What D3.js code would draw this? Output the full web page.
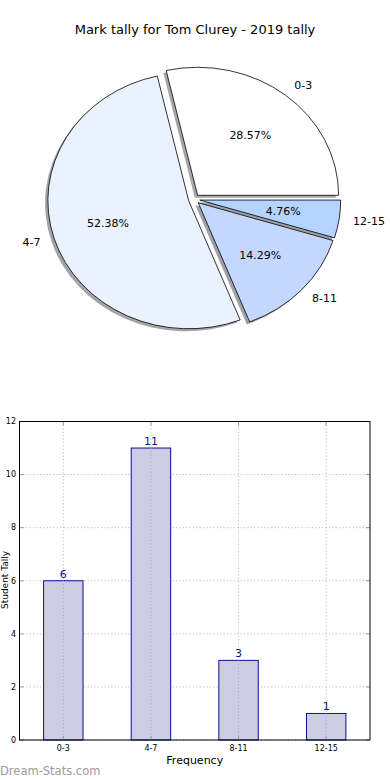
<!DOCTYPE html>
<html>
<head>
<meta charset="utf-8">
<script src="https://cdn.jsdelivr.net/npm/d3@7"></script>
<style>
html,body{margin:0;padding:0;background:#fff;}
svg{display:block;font-family:"DejaVu Sans",sans-serif;}
</style>
</head>
<body>
<svg id="chart" width="390" height="780"></svg>
<script>
const title = "Mark tally for Tom Clurey - 2019 tally";
const categories = ["0-3", "4-7", "8-11", "12-15"];
const counts = [6, 11, 3, 1];
const pieColors = ["#ffffff", "#ebf2ff", "#c4d8ff", "#b4d4ff"];
const yTicks = [0, 2, 4, 6, 8, 10, 12];
const xLabel = "Frequency";
const yLabel = "Student Tally";
const watermark = "Dream-Stats.com";

const svg = d3.select("#chart");

// Title
svg.append("text").attr("x", 195).attr("y", 34).attr("text-anchor", "middle")
  .attr("font-size", 13).attr("fill", "#000").text(title);

// ---------- PIE ----------
const cx = 194.1, cy = 199.3, rx = 141, ry = 128, explode = 0.04;
const total = d3.sum(counts);
const pie = d3.pie().sort(null).startAngle(Math.PI / 2).endAngle(Math.PI / 2 - 2 * Math.PI);
const arcs = pie(counts);
const arcGen = d3.arc().innerRadius(0).outerRadius(1);
const pieG = svg.append("g");

function dirOf(a) {
  const m = (a.startAngle + a.endAngle) / 2;
  return [Math.sin(m), -Math.cos(m)];
}
function shade(c) {
  const col = d3.rgb(c);
  return `rgba(${Math.round(col.r * 0.3)},${Math.round(col.g * 0.3)},${Math.round(col.b * 0.3)},0.5)`;
}
// shadows
arcs.forEach((a, i) => {
  const [dx, dy] = dirOf(a);
  const ax = cx + explode * rx * dx - 0.02 * rx, ay = cy + explode * ry * dy + 0.02 * ry;
  pieG.append("path").attr("d", arcGen(a))
    .attr("transform", `translate(${ax},${ay}) scale(${rx},${ry})`)
    .attr("fill", shade(pieColors[i])).attr("stroke", "none");
});
// wedges
arcs.forEach((a, i) => {
  const [dx, dy] = dirOf(a);
  const ax = cx + explode * rx * dx, ay = cy + explode * ry * dy;
  pieG.append("path").attr("d", arcGen(a))
    .attr("transform", `translate(${ax},${ay}) scale(${rx},${ry})`)
    .attr("fill", pieColors[i]).attr("stroke", "#000").attr("stroke-width", 0.8)
    .attr("vector-effect", "non-scaling-stroke").attr("stroke-linejoin", "round");
  const lx = ax + 1.1 * rx * dx, ly = ay + 1.1 * ry * dy;
  pieG.append("text").attr("x", lx).attr("y", ly).attr("dy", "0.35em")
    .attr("text-anchor", dx > 0 ? "start" : "end").attr("font-size", 11).attr("fill", "#000")
    .text(categories[i]);
  const px = ax + 0.6 * rx * dx, py = ay + 0.6 * ry * dy;
  pieG.append("text").attr("x", px).attr("y", py).attr("dy", "0.35em")
    .attr("text-anchor", "middle").attr("font-size", 11).attr("fill", "#000")
    .text((a.value / total * 100).toFixed(2) + "%");
});

// ---------- BAR ----------
const L = 19.5, R = 370, T = 421.5, B = 740;
const x = d3.scaleLinear().domain([-0.5, categories.length - 0.5]).range([L, R]);
const y = d3.scaleLinear().domain([0, 12]).range([B, T]);
const barW = 0.45;
const g = svg.append("g");

const gridStyle = s => s.attr("stroke", "#bdbdbd").attr("stroke-width", 1).attr("stroke-dasharray", "1.2,2.2");
yTicks.forEach(t => {
  g.append("line").attr("x1", L).attr("x2", R).attr("y1", y(t)).attr("y2", y(t)).call(gridStyle);
});
categories.forEach((c, i) => {
  g.append("line").attr("x1", x(i)).attr("x2", x(i)).attr("y1", T).attr("y2", B).call(gridStyle);
});

categories.forEach((c, i) => {
  g.append("rect").attr("x", x(i - barW / 2)).attr("width", x(barW) - x(0))
    .attr("y", y(counts[i])).attr("height", y(0) - y(counts[i]))
    .attr("fill", "#ccccE5").attr("stroke", "#10108a").attr("stroke-width", 1);
  g.append("line").attr("x1", x(i)).attr("x2", x(i)).attr("y1", y(counts[i])).attr("y2", B).call(gridStyle).attr("stroke", "#a8a8b8");
  g.append("text").attr("x", x(i)).attr("y", y(counts[i]) - 3).attr("text-anchor", "middle")
    .attr("font-size", 11).attr("fill", "#10108a").text(counts[i]);
});

yTicks.forEach(t => {
  g.append("line").attr("x1", L).attr("x2", L + 4).attr("y1", y(t)).attr("y2", y(t)).attr("stroke", "#999");
  g.append("line").attr("x1", R - 4).attr("x2", R).attr("y1", y(t)).attr("y2", y(t)).attr("stroke", "#999");
});
categories.forEach((c, i) => {
  g.append("line").attr("x1", x(i)).attr("x2", x(i)).attr("y1", T).attr("y2", T + 4).attr("stroke", "#999");
  g.append("line").attr("x1", x(i)).attr("x2", x(i)).attr("y1", B - 4).attr("y2", B).attr("stroke", "#999");
});

g.append("rect").attr("x", L).attr("y", T).attr("width", R - L).attr("height", B - T)
  .attr("fill", "none").attr("stroke", "#000").attr("stroke-width", 1);

yTicks.forEach(t => {
  g.append("text").attr("x", L - 3.5).attr("y", y(t)).attr("dy", "0.35em").attr("text-anchor", "end")
    .attr("font-size", 8).attr("fill", "#000").text(t);
});
categories.forEach((c, i) => {
  g.append("text").attr("x", x(i)).attr("y", B + 11).attr("text-anchor", "middle")
    .attr("font-size", 8).attr("fill", "#000").text(c);
});

svg.append("text").attr("x", (L + R) / 2).attr("y", 764).attr("text-anchor", "middle")
  .attr("font-size", 11).attr("fill", "#000").text(xLabel);
svg.append("text").attr("transform", "translate(8,580) rotate(-90)").attr("text-anchor", "middle")
  .attr("font-size", 9).attr("fill", "#000").text(yLabel);

svg.append("text").attr("x", 0).attr("y", 775).attr("font-size", 11.5)
  .attr("fill", "#9a9a9a").text(watermark);
</script>
</body>
</html>
